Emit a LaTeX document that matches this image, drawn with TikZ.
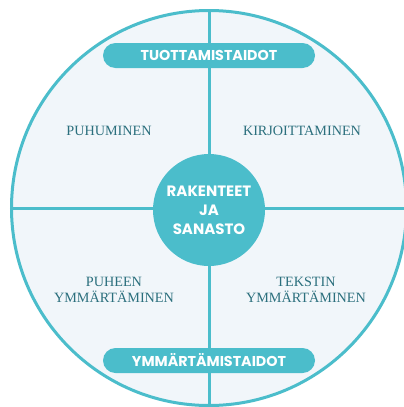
\documentclass[tikz,border=0pt]{standalone}
\usepackage{fontspec}
\setmainfont{Liberation Serif}
\newfontfamily\popb{Poppins}[UprightFont=* Bold]
\definecolor{teal1}{HTML}{4BBDCB}
\definecolor{pale}{HTML}{F1F6FA}
\definecolor{darkt}{HTML}{2B6F7D}
\begin{document}
\begin{tikzpicture}[x=1pt,y=-1pt,
  quad/.style={text=darkt,font=\fontsize{14.2}{16}\selectfont,align=center},
  pill/.style={fill=teal1,rounded corners=12.5pt,minimum width=212pt,minimum height=25pt,inner sep=0pt,text=white,font=\popb\fontsize{14.3}{16}\selectfont},
  hub/.style={circle,fill=teal1,minimum size=112pt,inner sep=0pt,text=white,align=center,font=\popb\fontsize{15}{19}\selectfont}]
\useasboundingbox (0,0) rectangle (404,407);
\fill[white] (0,0) rectangle (404,407);
\begin{scope}
\clip (0,0) rectangle (404,407);
\draw[teal1,line width=3pt,fill=pale] (209,208) circle (197.5);
\draw[teal1,line width=3pt] (209,10) -- (209,407);
\draw[teal1,line width=3pt] (10,208) -- (404,208);
\end{scope}
\node[hub] (hub) at (209,210) {RAKENTEET\\JA\\SANASTO};
\node[pill] (top) at (209,55.5) {TUOTTAMISTAIDOT};
\node[pill] (bot) at (209,360.5) {YMMÄRTÄMISTAIDOT};
\node[quad] (q1) at (109,131) {PUHUMINEN};
\node[quad] (q2) at (302,131) {KIRJOITTAMINEN};
\node[quad] (q3) at (114,290) {PUHEEN\\YMMÄRTÄMINEN};
\node[quad] (q4) at (306,290) {TEKSTIN\\YMMÄRTÄMINEN};
\end{tikzpicture}
\end{document}
